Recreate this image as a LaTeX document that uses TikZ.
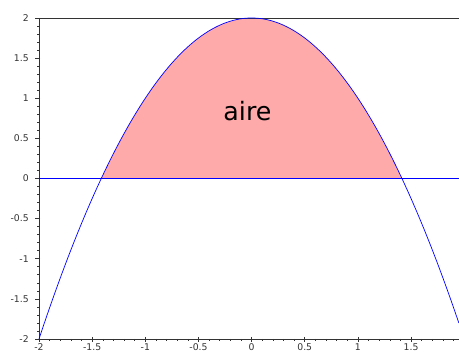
\documentclass[tikz,border=0pt]{standalone}
\usepackage{fontspec}
\setmainfont{DejaVu Sans}
\usepackage{xcolor}
\definecolor{cCurve}{HTML}{0000FF}
\definecolor{cArea}{HTML}{FFAAAA}
\definecolor{cAxis}{HTML}{333333}
\usepackage{tikz}
\tikzset{
  axis-line/.style={draw=cAxis,line width=0.6pt},
  tick-major/.style={draw=cAxis,line width=0.5pt},
  tick-minor/.style={draw=cAxis,line width=0.4pt},
  tick-label/.style={font=\fontsize{6.6}{8}\selectfont,text=cAxis,inner sep=0pt},
  curve-line/.style={draw=cCurve,line width=0.5pt},
  area-fill/.style={fill=cArea,draw=none},
  area-label/.style={font=\fontsize{18}{20}\selectfont,inner sep=0pt},
}

\begin{document}
\begin{tikzpicture}[x=2.6575cm,y=2.00625cm]
  \useasboundingbox (-2.367,-2.212) rectangle (1.951,2.224);
  % aire sous la parabole
  \fill[area-fill] plot[domain=-1.41421:1.41421,samples=80] (\x,{2-\x*\x}) -- cycle;
  \node[area-label] (aire) at (-0.039,0.841) {aire};
  % cadre
  \coordinate (o) at (-2,-2);
  \coordinate (yt) at (-2,2);
  \coordinate (xr) at (1.951,-2);
  \coordinate (tr) at (1.951,2);
  \draw[axis-line] (yt) -- (o) -- (xr);
  \draw[axis-line] (yt) -- (tr);
  % graduations
  \foreach \v in {-2,-1.9,...,2.01}
    \draw[tick-minor] (-2,\v) -- ++(-0.06cm,0);
  \foreach \v in {-2,-1.9,...,1.95}
    \draw[tick-minor] (\v,-2) -- ++(0,-0.06cm);
  \foreach \v [count=\i] in {-2,-1.5,-1,-0.5,0,0.5,1,1.5,2} {
    \draw[tick-major] ([xshift=0.03cm]-2,\v) -- ++(-0.13cm,0);
    \node[tick-label,anchor=east] (ylab\i) at ([xshift=-0.25cm]-2,\v) {\v};
  }
  \foreach \v [count=\i] in {-2,-1.5,-1,-0.5,0,0.5,1,1.5} {
    \draw[tick-major] ([yshift=0.05cm]\v,-2) -- ++(0,-0.13cm);
    \node[tick-label,anchor=north] (xlab\i) at ([yshift=-0.12cm]\v,-2) {\v};
  }
  % courbe et droite y=0
  \coordinate (zl) at (-2,0);
  \coordinate (zr) at (1.951,0);
  \draw[curve-line] (zl) -- (zr);
  \draw[curve-line] plot[domain=-2:1.951,samples=120,smooth] (\x,{2-\x*\x});
\end{tikzpicture}
\end{document}
